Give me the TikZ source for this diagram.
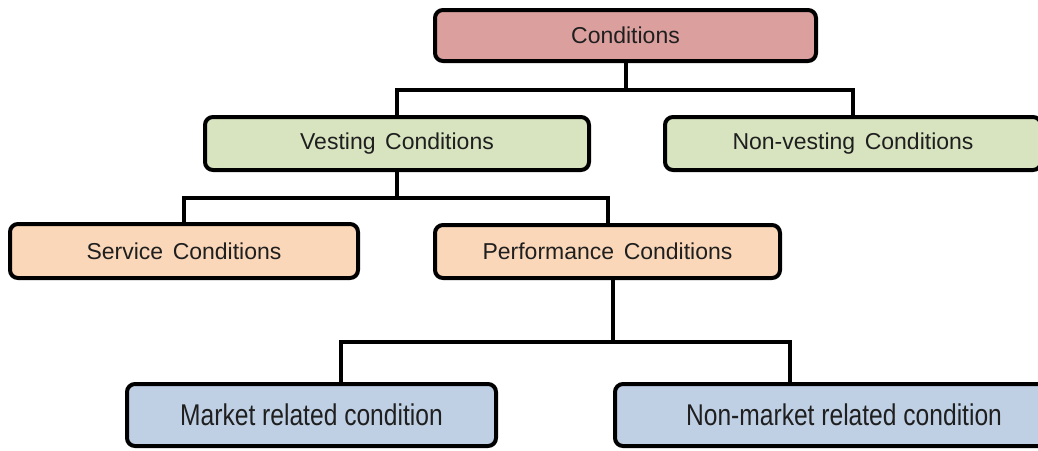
\documentclass[tikz,border=0pt]{standalone}
\usepackage{fontspec}
\usetikzlibrary{calc}
\newfontfamily\boxfont[WordSpace=1.5]{Liberation Sans}
\newfontfamily\narrowfont[FakeStretch=0.82]{Liberation Sans}
\definecolor{condred}{HTML}{DBA09E}
\definecolor{vestgreen}{HTML}{D8E4BF}
\definecolor{peach}{HTML}{FBD7B9}
\definecolor{mktblue}{HTML}{BFD0E5}
\tikzset{
    box/.style={draw=black, line width=4pt, rounded corners=8pt, inner sep=0pt,
        text=black!88, font={\boxfont\fontsize{23}{27}\selectfont}},
    bigbox/.style={box, font={\narrowfont\fontsize{30}{34}\selectfont}},
    link/.style={line width=4pt}
}
\begin{document}
\begin{tikzpicture}[x=1pt, y=-1pt]
    \useasboundingbox (0,0) rectangle (1038,450);

    % Top level
    \node[box, fill=condred, minimum width=381pt, minimum height=51pt] (cond) at (625.5,35.5) {Conditions};

    % Second level
    \node[box, fill=vestgreen, minimum width=384pt, minimum height=53pt] (vest) at (397,143.5) {Vesting Conditions};
    \node[box, fill=vestgreen, minimum width=376pt, minimum height=53pt] (nonv) at (853,143.5) {Non-vesting Conditions};

    % Third level
    \node[box, fill=peach, minimum width=348pt, minimum height=54pt] (serv) at (184,251) {Service Conditions};
    \node[box, fill=peach, minimum width=345pt, minimum height=53pt] (perf) at (607.5,251.5) {Performance Conditions};

    % Bottom level
    \node[bigbox, fill=mktblue, minimum width=369pt, minimum height=62pt] (mark) at (311.5,415) {Market related condition};
    \node[bigbox, fill=mktblue, minimum width=458pt, minimum height=62pt] (nonm) at (844,415) {Non-market related condition};

    % Connectors
    \draw[link] (cond.south) -- ++(0,27) coordinate (c1);
    \draw[link] (vest.north) |- (c1) -| (nonv.north);

    \draw[link] (vest.south) -- ++(0,26) coordinate (c2);
    \draw[link] (serv.north) |- (c2) -| (perf.north);

    \draw[link] ($(perf.south)+(5,0)$) -- ++(0,62) coordinate (c3);
    \draw[link] ($(mark.north)+(29,0)$) |- (c3) -| ($(nonm.north)+(-54,0)$);
\end{tikzpicture}
\end{document}
